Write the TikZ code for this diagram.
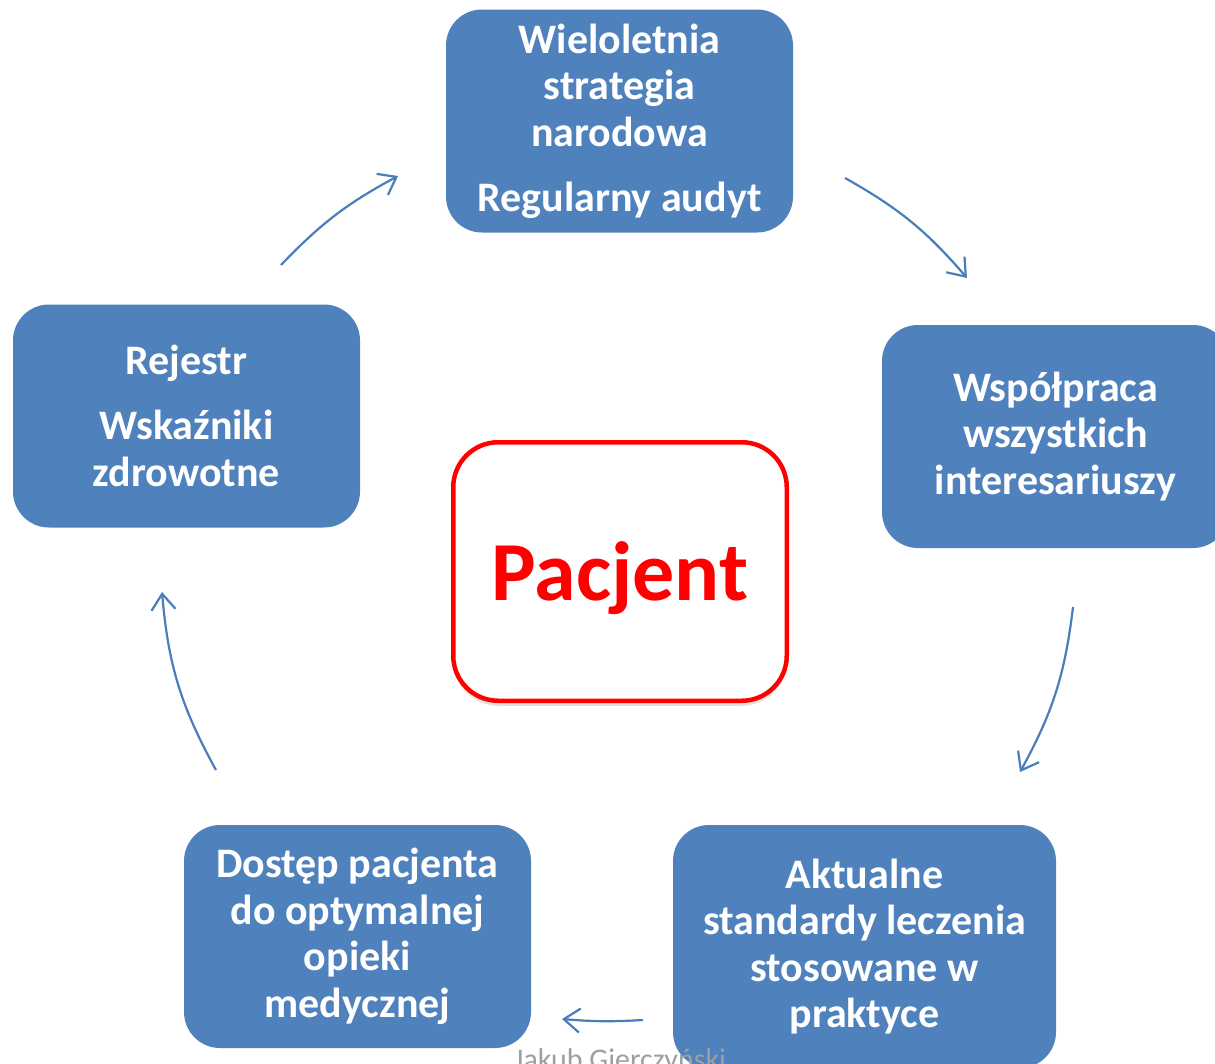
\documentclass[tikz,border=0pt]{standalone}
\usepackage{fontspec}
\setmainfont{Carlito}
\usetikzlibrary{arrows.meta,shadows}
\definecolor{boxblue}{HTML}{4F81BD}
\definecolor{arrblue}{HTML}{4A7EBB}
\definecolor{pred}{HTML}{FF0000}
\begin{document}
\begin{tikzpicture}[x=1pt,y=-1pt,
  bluebox/.style={fill=boxblue, rounded corners=36pt, text=white, inner sep=0pt,
    font=\fontsize{42}{46.5}\selectfont\bfseries, align=center,
    minimum width=347pt, minimum height=223pt},
  cyc/.style={draw=arrblue, line width=2.2pt,
    -{Straight Barb[length=16pt,width=24pt,line width=2.2pt]}}]
\useasboundingbox (0,0) rectangle (1215,1063);
% boxes
\node[bluebox] (top) at (619.5,121) {Wieloletnia\\strategia\\narodowa\\[18.5pt]Regularny audyt};
\node[bluebox] (right) at (1055.5,436.5) {Współpraca\\wszystkich\\interesariuszy};
\node[bluebox] (left) at (186.5,416) {Rejestr\\[18.5pt]Wskaźniki\\zdrowotne};
\node[bluebox] (bl) at (357.5,936.5) {Dostęp pacjenta\\do optymalnej\\opieki\\medycznej};
\node[bluebox, minimum width=383pt, minimum height=243pt] (br) at (864.5,946.5) {Aktualne\\standardy leczenia\\stosowane w\\praktyce};
% centre
\node[draw=pred, line width=4.5pt, fill=white, rounded corners=45pt,
  minimum width=333.5pt, minimum height=258.5pt, inner sep=0pt, text depth=0pt,
  drop shadow={opacity=0.25, shadow xshift=0pt, shadow yshift=-5pt},
  text=pred, font=\fontsize{84}{90}\selectfont\bfseries] (pac) at (620,571.5) {Pacjent};
% watermark
\node[text=gray!75, font=\fontsize{30}{32}\selectfont, anchor=base] (wm) at (620,1069) {Jakub Gierczyński};
% connectors
\coordinate (a1s) at (281,265);  \coordinate (a1e) at (398,176);
\coordinate (a2s) at (845,178);  \coordinate (a2e) at (967,278);
\coordinate (a3s) at (1073,607); \coordinate (a3e) at (1020,772);
\coordinate (a4s) at (643,1020); \coordinate (a4e) at (562,1019);
\coordinate (a5s) at (216,770);  \coordinate (a5e) at (162,592);
\draw[cyc] (a1s) to[bend left=9] (a1e);
\draw[cyc] (a2s) to[bend left=10] (a2e);
\draw[cyc] (a3s) to[bend left=11] (a3e);
\draw[cyc] (a4s) to[bend left=4] (a4e);
\draw[cyc] (a5s) to[bend left=12] (a5e);
\end{tikzpicture}
\end{document}
